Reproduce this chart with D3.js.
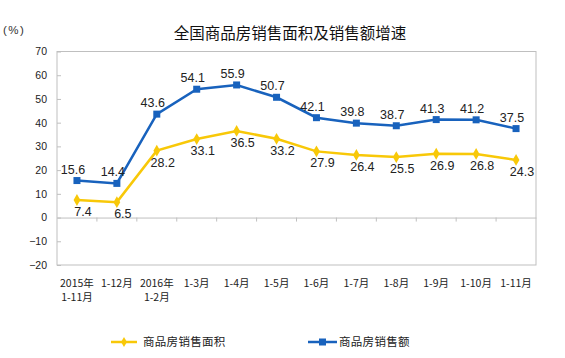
<!DOCTYPE html>
<html><head><meta charset="utf-8">
<script src="https://cdn.jsdelivr.net/npm/d3@7"></script>
<style>
body{margin:0;background:#fff;}
svg{display:block;font-family:"Liberation Sans",Arial,sans-serif;}
.cjk{font-family:"Noto Sans CJK SC","Liberation Sans",sans-serif;}
</style></head>
<body><svg id="c" width="565" height="358"></svg>
<script>
const title = "全国商品房销售面积及销售额增速";
const unitLabel = "(%)";
const categories = [["2015年","1-11月"],["1-12月"],["2016年","1-2月"],["1-3月"],["1-4月"],["1-5月"],["1-6月"],["1-7月"],["1-8月"],["1-9月"],["1-10月"],["1-11月"]];
const areaName = "商品房销售面积";
const areaValues = [7.4,6.5,28.2,33.1,36.5,33.2,27.9,26.4,25.5,26.9,26.8,24.3];
const salesName = "商品房销售额";
const salesValues = [15.6,14.4,43.6,54.1,55.9,50.7,42.1,39.8,38.7,41.3,41.2,37.5];
const yTicks = [70,60,50,40,30,20,10,0,-10,-20];

const svg = d3.select("#c");
const L=57, R=536, T=51.5, B=265;
const blue="#1862bd", yellow="#f8c808", gray="#bfbfbf";

const x = d3.scaleBand().domain(d3.range(categories.length)).range([L,R]).padding(0);
const y = d3.scaleLinear().domain([-20,70]).range([B,T]);
const cx = i => x(i)+x.bandwidth()/2;

// title
svg.append("text").attr("class","cjk").attr("x",290).attr("y",39).attr("text-anchor","middle")
  .attr("font-size",15.5).attr("fill","#111").text(title);
svg.append("text").attr("x",3).attr("y",34).attr("font-size",11.5).attr("letter-spacing",1.5).attr("fill","#333").text(unitLabel);

// frame
svg.append("rect").attr("x",L).attr("y",T).attr("width",R-L).attr("height",B-T)
  .attr("fill","none").attr("stroke",gray).attr("stroke-width",1);

// y axis
const yAxis = d3.axisLeft(y).tickValues(yTicks).tickSize(-4).tickPadding(10);
const gy = svg.append("g").attr("transform",`translate(${L},0)`).call(yAxis);
gy.select(".domain").remove();
gy.selectAll("line").attr("stroke",gray);
gy.selectAll("text").attr("font-size",10.5).attr("fill","#222").attr("font-family","Liberation Sans, Arial, sans-serif");

// zero line with category ticks
const xAxis = d3.axisBottom(x).tickSize(0).tickFormat("");
const gx = svg.append("g").attr("transform",`translate(0,${y(0)})`).call(xAxis);
gx.select(".domain").attr("stroke",gray);
gx.selectAll(".tick").remove();
svg.append("g").selectAll("line").data(d3.range(1,categories.length)).join("line")
  .attr("x1",i=>x(i)).attr("x2",i=>x(i)).attr("y1",y(0)).attr("y2",y(0)+4).attr("stroke",gray);

// category labels
const cl = svg.append("g").attr("class","cjk");
categories.forEach((c,i)=>{
  c.forEach((s,j)=>{
    cl.append("text").attr("x",cx(i)).attr("y",287+j*14).attr("text-anchor","middle")
      .attr("font-size",10.5).attr("fill","#222").text(s);
  });
});

const line = d3.line().x((d,i)=>cx(i)).y(d=>y(d));

// area series
svg.append("path").datum(areaValues).attr("d",line).attr("fill","none").attr("stroke",yellow).attr("stroke-width",2.5);
svg.append("g").selectAll("path").data(areaValues).join("path")
  .attr("d",d3.symbol(d3.symbolDiamond,40)).attr("transform",(d,i)=>`translate(${cx(i)},${y(d)})`).attr("fill",yellow);
svg.append("g").selectAll("text").data(areaValues).join("text")
  .attr("x",(d,i)=>cx(i)+6).attr("y",d=>y(d)+16).attr("text-anchor","middle")
  .attr("font-size",12.5).attr("fill","#222").text(d=>d.toFixed(1));

// sales series
svg.append("path").datum(salesValues).attr("d",line).attr("fill","none").attr("stroke",blue).attr("stroke-width",2.5);
svg.append("g").selectAll("rect").data(salesValues).join("rect")
  .attr("x",(d,i)=>cx(i)-3.5).attr("y",d=>y(d)-3.5).attr("width",7).attr("height",7).attr("fill",blue);
svg.append("g").selectAll("text").data(salesValues).join("text")
  .attr("x",(d,i)=>cx(i)-4).attr("y",d=>y(d)-7).attr("text-anchor","middle")
  .attr("font-size",12.5).attr("fill","#222").text(d=>d.toFixed(1));

// legend
const lg = svg.append("g");
lg.append("line").attr("x1",111).attr("x2",137).attr("y1",342).attr("y2",342).attr("stroke",yellow).attr("stroke-width",2.5);
lg.append("path").attr("d",d3.symbol(d3.symbolDiamond,30)).attr("transform","translate(124,342)").attr("fill",yellow);
lg.append("text").attr("class","cjk").attr("x",143).attr("y",346).attr("font-size",11.5).attr("letter-spacing",0.3).attr("fill","#222").text(areaName);
lg.append("line").attr("x1",308).attr("x2",337).attr("y1",342).attr("y2",342).attr("stroke",blue).attr("stroke-width",2.5);
lg.append("rect").attr("x",319).attr("y",338.5).attr("width",7).attr("height",7).attr("fill",blue);
lg.append("text").attr("class","cjk").attr("x",339).attr("y",346).attr("font-size",11.5).attr("letter-spacing",0.3).attr("fill","#222").text(salesName);
</script></body></html>
